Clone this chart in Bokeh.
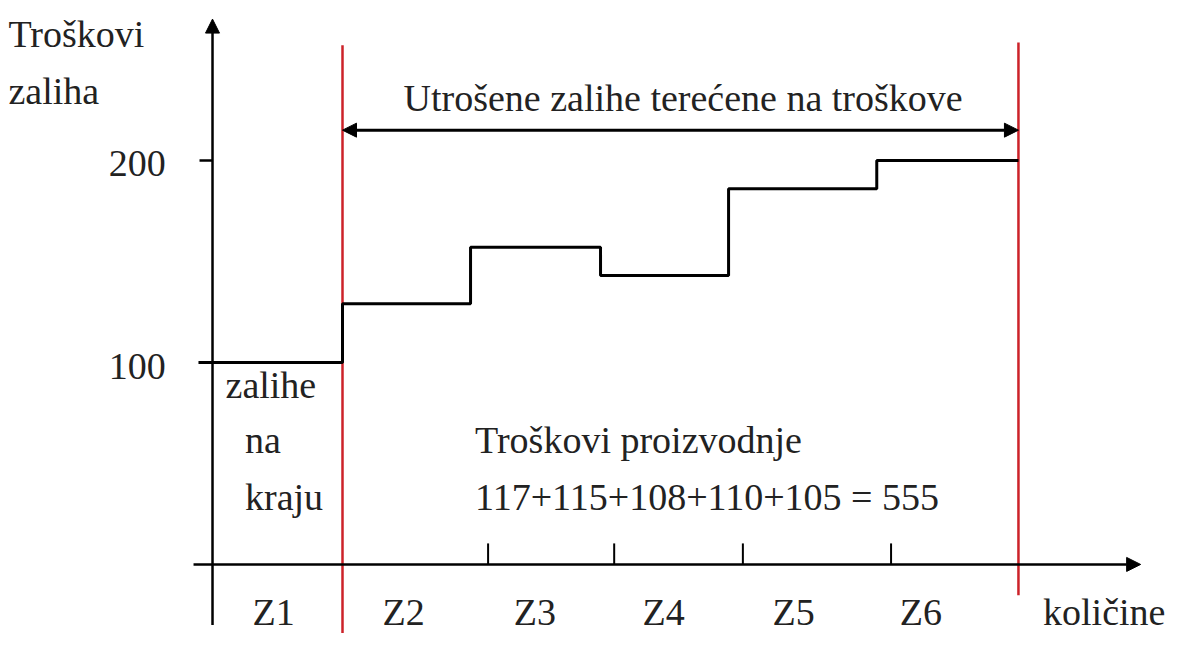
from bokeh.plotting import figure
from bokeh.models import Arrow, NormalHead, ColumnDataSource
from bokeh.core.properties import value
from bokeh.embed import file_html
from bokeh.resources import INLINE

# ---- data ----
zones = ["Z1", "Z2", "Z3", "Z4", "Z5", "Z6"]
zone_centers = [0.47, 1.47, 2.48, 3.47, 4.47, 5.45]
step_edges = [-0.108, 1.0, 1.985, 2.985, 3.97, 5.11, 6.2]
step_levels = [100, 129, 157, 143, 186, 200, 200]
x_ticks = [2.12, 3.09, 4.08, 5.22]
y_tick_values = [100, 200]
y_tick_labels = ["100", "200"]
red_lines_x = [1.0, 6.2]
red_lines_bottom = [-40, -15.3]
red_lines_top = [257, 258.4]
span_y = 215
span_label = "Utrošene zalihe terećene na troškove"
y_title = ["Troškovi", "zaliha"]
x_title = "količine"
end_stock_text = ["zalihe", "na", "kraju"]
prod_text = ["Troškovi proizvodnje", "117+115+108+110+105 = 555"]

FONT = value("Liberation Serif")
FS = "38px"
TXT = "#222222"

p = figure(width=1169, height=633, x_range=(-1.631, 7.362), y_range=(-34.2, 279.2),
           output_backend="svg", toolbar_location=None, min_border=0,
           background_fill_color="white", border_fill_color="white")
p.axis.visible = False
p.grid.visible = False
p.outline_line_color = None

# axes with arrows
p.add_layout(Arrow(x_start=0, y_start=-30, x_end=0, y_end=270, line_width=2.5, line_color="black",
                   end=NormalHead(size=14, fill_color="black", line_color="black")))
p.add_layout(Arrow(x_start=-0.146, y_start=0, x_end=7.14, y_end=0, line_width=2.5, line_color="black",
                   end=NormalHead(size=14, fill_color="black", line_color="black")))

# y-axis tick at 200
p.segment(x0=[-0.1], y0=[y_tick_values[1]], x1=[0], y1=[y_tick_values[1]], line_width=2.5, line_color="black")

# x-axis small ticks
p.segment(x0=x_ticks, y0=[0]*len(x_ticks), x1=x_ticks, y1=[10.4]*len(x_ticks), line_width=2, line_color="black")

# red lines
p.segment(x0=red_lines_x, y0=red_lines_bottom, x1=red_lines_x, y1=red_lines_top,
          line_width=2.5, line_color="#cc2229")

# step line
p.step(x=step_edges, y=step_levels, mode="after", line_width=3, line_color="black")

# double arrow
p.add_layout(Arrow(x_start=red_lines_x[0], y_start=span_y, x_end=red_lines_x[1], y_end=span_y,
                   line_width=3, line_color="black",
                   start=NormalHead(size=14, fill_color="black", line_color="black"),
                   end=NormalHead(size=14, fill_color="black", line_color="black")))

def txt(xs, ys, texts, align="left"):
    src = ColumnDataSource(dict(x=xs, y=ys, t=texts))
    p.text(x="x", y="y", text="t", source=src, text_font=FONT, text_font_size=FS,
           text_color=TXT, text_align=align, text_baseline="middle")

txt([3.62], [230.7], [span_label], "center")
txt(zone_centers, [-23.8]*6, zones, "center")
txt([6.86], [-23.8], [x_title], "center")
txt([-1.57, -1.57], [262.8, 234.5], y_title)
txt([-0.36, -0.36], [198.5, 98.0], [y_tick_labels[1], y_tick_labels[0]], "right")
txt([0.1, 0.25, 0.25], [88.6, 61.4, 33.2], end_stock_text)
txt([2.02, 2.02], [61.4, 33.2], prod_text)

open("out.html", "w").write(file_html(p, INLINE))
